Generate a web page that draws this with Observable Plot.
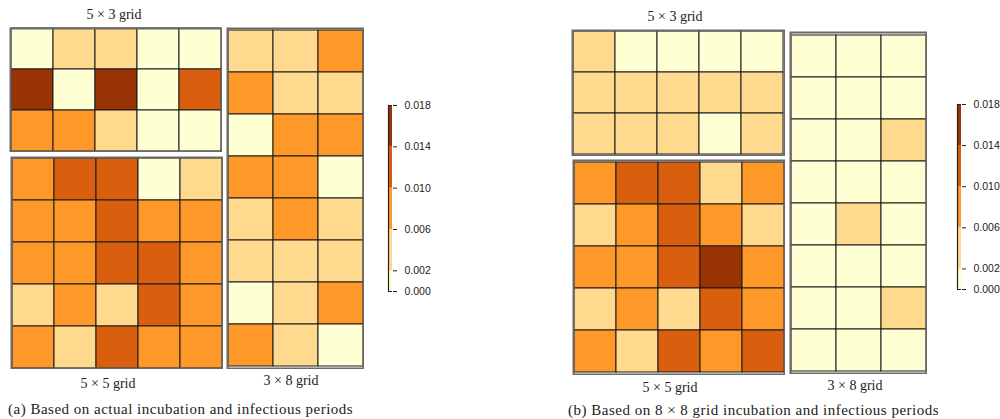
<!DOCTYPE html>
<html><head><meta charset="utf-8">
<script src="https://cdn.jsdelivr.net/npm/d3@7"></script>
<script src="https://cdn.jsdelivr.net/npm/@observablehq/plot@0.6"></script>
<style>
html,body{margin:0;padding:0;background:#fff;}
#root{position:relative;width:1000px;height:419px;overflow:hidden;background:#fff;}
.part{position:absolute;}
.part svg{display:block;max-width:none;}
.lbl{position:absolute;font-family:"Liberation Serif","DejaVu Serif",serif;font-size:14px;color:#222;white-space:nowrap;line-height:14px;}
.cap{font-size:15px;letter-spacing:0.5px;line-height:15px;}
.ctr{transform:translateX(-50%);}
</style></head><body><div id="root"></div>
<script>
// Colour classes (YlOrBr, 5 classes) and legend ticks
const thresholds = [0.002, 0.006, 0.010, 0.014];
const palette = ["#ffffd4", "#fed98e", "#fe9929", "#d95f0e", "#993404"];
const legendTicks = [0, 0.002, 0.006, 0.010, 0.014, 0.018];
const legendMax = 0.018;

// (a) Based on actual incubation and infectious periods — rows top to bottom
const a5x3 = [
  [0.001, 0.004, 0.004, 0.001, 0.001],
  [0.016, 0.001, 0.016, 0.001, 0.012],
  [0.008, 0.008, 0.004, 0.001, 0.001]
];
const a5x5 = [
  [0.008, 0.012, 0.012, 0.001, 0.004],
  [0.008, 0.008, 0.012, 0.008, 0.008],
  [0.008, 0.008, 0.012, 0.012, 0.008],
  [0.004, 0.008, 0.004, 0.012, 0.008],
  [0.008, 0.004, 0.012, 0.008, 0.008]
];
const a3x8 = [
  [0.004, 0.004, 0.008],
  [0.008, 0.004, 0.004],
  [0.001, 0.008, 0.008],
  [0.008, 0.008, 0.001],
  [0.004, 0.008, 0.004],
  [0.004, 0.004, 0.004],
  [0.001, 0.004, 0.008],
  [0.008, 0.004, 0.001]
];

// (b) Based on 8 x 8 grid incubation and infectious periods
const b5x3 = [
  [0.004, 0.001, 0.001, 0.001, 0.001],
  [0.004, 0.004, 0.004, 0.004, 0.004],
  [0.004, 0.004, 0.004, 0.001, 0.004]
];
const b5x5 = [
  [0.008, 0.012, 0.012, 0.004, 0.008],
  [0.004, 0.008, 0.012, 0.008, 0.004],
  [0.008, 0.008, 0.012, 0.016, 0.008],
  [0.004, 0.008, 0.004, 0.012, 0.008],
  [0.008, 0.004, 0.012, 0.008, 0.012]
];
const b3x8 = [
  [0.001, 0.001, 0.001],
  [0.001, 0.001, 0.001],
  [0.001, 0.001, 0.004],
  [0.001, 0.001, 0.001],
  [0.001, 0.004, 0.001],
  [0.001, 0.001, 0.001],
  [0.001, 0.001, 0.004],
  [0.001, 0.001, 0.001]
];

const gridLabels = {g53: "5 × 3 grid", g55: "5 × 5 grid", g38: "3 × 8 grid"};
const captions = ["(a) Based on actual incubation and infectious periods",
                  "(b) Based on 8 × 8 grid incubation and infectious periods"];

const colorScale = {type: "threshold", domain: thresholds, range: palette};

function toCells(rows) {
  return rows.flatMap((r, i) => r.map((v, j) => ({row: i, col: j, value: v})));
}

function grid(rows, w, h) {
  const nr = rows.length, nc = rows[0].length;
  return Plot.plot({
    width: w, height: h, margin: 1,
    x: {type: "band", domain: d3.range(nc), padding: 0, axis: null},
    y: {type: "band", domain: d3.range(nr), padding: 0, axis: null},
    color: colorScale,
    marks: [
      Plot.cell(toCells(rows), {x: "col", y: "row", fill: "value", stroke: "#1a1a1a", strokeWidth: 1}),
      Plot.frame({stroke: "#6a6a6a", strokeWidth: 2})
    ]
  });
}

const legendBins = palette.map((c, i) => ({
  lo: i === 0 ? 0 : thresholds[i - 1],
  hi: i === palette.length - 1 ? legendMax : thresholds[i]
}));

function colorbar(h) {
  return Plot.plot({
    width: 60, height: h + 20, marginTop: 10, marginBottom: 10, marginLeft: 2, marginRight: 54,
    x: {domain: [0, 1], axis: null},
    y: {domain: [0, legendMax], axis: null},
    color: colorScale,
    style: {fontFamily: "'Liberation Sans', Arial, sans-serif", fontSize: "10.5px", color: "#222", overflow: "visible"},
    marks: [
      Plot.rect(legendBins, {x1: 0, x2: 1, y1: "lo", y2: "hi", fill: d => (d.lo + d.hi) / 2}),
      Plot.ruleX([0], {stroke: "#222", strokeWidth: 1.2}),
      Plot.ruleY([0, legendMax], {stroke: "#222", strokeWidth: 1}),
      Plot.axisY({anchor: "right", ticks: legendTicks, tickFormat: d3.format(".3f"), tickSize: 4, tickPadding: 8, label: null, stroke: "#222"})
    ]
  });
}

const root = document.getElementById("root");
function place(node, left, top) {
  const d = document.createElement("div");
  d.className = "part";
  d.style.left = left + "px";
  d.style.top = top + "px";
  d.appendChild(node);
  root.appendChild(d);
}
function label(text, x, top, center, cls) {
  const d = document.createElement("div");
  d.className = "lbl" + (center ? " ctr" : "") + (cls ? " " + cls : "");
  d.textContent = text;
  d.style.left = x + "px";
  d.style.top = top + "px";
  root.appendChild(d);
}

// Panel (a)
place(grid(a5x3, 213, 125), 9, 27);
place(grid(a5x5, 213, 213), 10, 156);
place(grid(a3x8, 138, 342), 226, 27);
place(colorbar(186), 386, 94.5);
label(gridLabels.g53, 114, 8, true);
label(gridLabels.g55, 108, 377, true);
label(gridLabels.g38, 291, 374, true);
label(captions[0], 8, 402, false, "cap");

// Panel (b)
place(grid(b5x3, 214, 127), 570.5, 29);
place(grid(b5x5, 213, 216), 571.5, 159);
place(grid(b3x8, 138, 343), 789, 30.5);
place(colorbar(185), 954.5, 94);
label(gridLabels.g53, 675, 10, true);
label(gridLabels.g55, 670, 381, true);
label(gridLabels.g38, 855, 379, true);
label(captions[1], 568, 403, false, "cap");
</script></body></html>
